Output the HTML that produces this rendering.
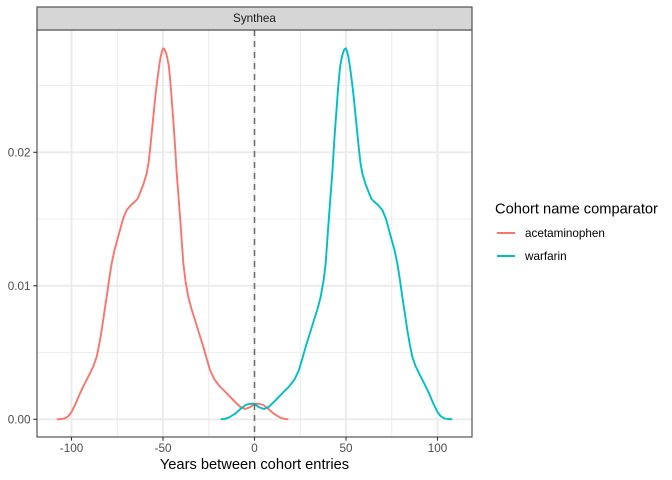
<!DOCTYPE html>
<html><head><meta charset="utf-8"><style>
html,body{margin:0;padding:0;background:#fff;}
svg{display:block;font-family:"Liberation Sans",Arial,sans-serif;}
</style></head><body>
<svg width="672" height="480" viewBox="0 0 672 480" xmlns="http://www.w3.org/2000/svg">
<rect x="0" y="0" width="672" height="480" fill="#fff"/>
<!-- panel bg -->
<rect x="37" y="30" width="435" height="407" fill="#fff"/>
<!-- minor grid -->
<g stroke="#EBEBEB" stroke-width="0.95">
<line x1="117.25" y1="30" x2="117.25" y2="437"/>
<line x1="208.75" y1="30" x2="208.75" y2="437"/>
<line x1="300.25" y1="30" x2="300.25" y2="437"/>
<line x1="391.75" y1="30" x2="391.75" y2="437"/>
<line x1="37" y1="352.55" x2="472" y2="352.55"/>
<line x1="37" y1="219.05" x2="472" y2="219.05"/>
<line x1="37" y1="85.55" x2="472" y2="85.55"/>
</g>
<!-- major grid -->
<g stroke="#EBEBEB" stroke-width="1.9">
<line x1="71.5" y1="30" x2="71.5" y2="437"/>
<line x1="163" y1="30" x2="163" y2="437"/>
<line x1="254.5" y1="30" x2="254.5" y2="437"/>
<line x1="346" y1="30" x2="346" y2="437"/>
<line x1="437.5" y1="30" x2="437.5" y2="437"/>
<line x1="37" y1="419.3" x2="472" y2="419.3"/>
<line x1="37" y1="285.8" x2="472" y2="285.8"/>
<line x1="37" y1="152.3" x2="472" y2="152.3"/>
</g>
<!-- curves -->
<g fill="none" stroke-width="1.9" stroke-linejoin="round" stroke-linecap="butt">
<polyline id="red" stroke="#F8766D" points="56.7,419.3 61,419 65,418.3 68.5,416 71.7,411.7 75.5,404 80,393.3 85,383 90,373.3 93.5,366 96.7,356.7 99.3,344 101.7,330 104.2,313 106.7,296.7 109.2,279 111.7,263.3 114.5,250 117.3,240 120,230 123,219 126.7,210 131,205 134.5,202 137.5,199 140,193 143.5,184 146.7,173.3 148.5,163 150,150 152,130 154,110 155.5,95 157.3,80 159,67 160.6,57 162,51 163.3,48.3 164.7,49.5 166.2,53.5 167.5,59 168.8,66 170,78 171.2,92 172.5,110 174,130 175.3,150 176.7,173.3 178.4,195 180,216.7 181.7,240 183.3,263.3 185.5,281 188.3,296.7 191.5,309 195,320 199,333 203.3,346.7 206.5,358 210,370 214.5,379.5 220,386.7 225,391.5 230,396.7 235,401.8 240,406.7 245,409 250,407.2 255,403.7 259,403.8 263.3,405 268,408.5 273.3,413.3 280,417.5 284,418.8 288.3,419.3"/>
<polyline stroke="#00BFC4" transform="translate(509,0) scale(-1,1)" points="56.7,419.3 61,419 65,418.3 68.5,416 71.7,411.7 75.5,404 80,393.3 85,383 90,373.3 93.5,366 96.7,356.7 99.3,344 101.7,330 104.2,313 106.7,296.7 109.2,279 111.7,263.3 114.5,250 117.3,240 120,230 123,219 126.7,210 131,205 134.5,202 137.5,199 140,193 143.5,184 146.7,173.3 148.5,163 150,150 152,130 154,110 155.5,95 157.3,80 159,67 160.6,57 162,51 163.3,48.3 164.7,49.5 166.2,53.5 167.5,59 168.8,66 170,78 171.2,92 172.5,110 174,130 175.3,150 176.7,173.3 178.4,195 180,216.7 181.7,240 183.3,263.3 185.5,281 188.3,296.7 191.5,309 195,320 199,333 203.3,346.7 206.5,358 210,370 214.5,379.5 220,386.7 225,391.5 230,396.7 235,401.8 240,406.7 245,409 250,407.2 255,403.7 259,403.8 263.3,405 268,408.5 273.3,413.3 280,417.5 284,418.8 288.3,419.3"/>
</g>
<!-- dashed vline -->
<line x1="254.5" y1="30" x2="254.5" y2="437" stroke="#6b6b6b" stroke-width="1.5" stroke-dasharray="6,5"/>
<!-- panel border -->
<rect x="37" y="30" width="435" height="407" fill="none" stroke="#444" stroke-width="1.1"/>
<!-- strip -->
<rect x="37" y="7" width="435" height="23" fill="#D6D6D6" stroke="#444" stroke-width="1.1"/>
<text x="254.5" y="22" font-size="11.7" fill="#1A1A1A" text-anchor="middle">Synthea</text>
<!-- ticks -->
<g stroke="#333" stroke-width="1.1">
<line x1="71.5" y1="437" x2="71.5" y2="440.7"/>
<line x1="163" y1="437" x2="163" y2="440.7"/>
<line x1="254.5" y1="437" x2="254.5" y2="440.7"/>
<line x1="346" y1="437" x2="346" y2="440.7"/>
<line x1="437.5" y1="437" x2="437.5" y2="440.7"/>
<line x1="33.3" y1="419.3" x2="37" y2="419.3"/>
<line x1="33.3" y1="285.8" x2="37" y2="285.8"/>
<line x1="33.3" y1="152.3" x2="37" y2="152.3"/>
</g>
<g font-size="11.7" fill="#4D4D4D" text-anchor="middle">
<text x="71.5" y="452">-100</text>
<text x="163" y="452">-50</text>
<text x="254.5" y="452">0</text>
<text x="346" y="452">50</text>
<text x="437.5" y="452">100</text>
</g>
<g font-size="11.7" fill="#4D4D4D" text-anchor="end">
<text x="30.5" y="423.5">0.00</text>
<text x="30.5" y="290">0.01</text>
<text x="30.5" y="156.5">0.02</text>
</g>
<text x="254.5" y="469" font-size="14.67" fill="#000" text-anchor="middle">Years between cohort entries</text>
<!-- legend -->
<text x="495" y="213.3" font-size="14.67" fill="#000">Cohort name comparator</text>
<line x1="497" y1="233" x2="515" y2="233" stroke="#F8766D" stroke-width="1.9"/>
<line x1="497" y1="256" x2="515" y2="256" stroke="#00BFC4" stroke-width="1.9"/>
<text x="525" y="237" font-size="11.7" fill="#000">acetaminophen</text>
<text x="525" y="260" font-size="11.7" fill="#000">warfarin</text>
</svg>
</body></html>
